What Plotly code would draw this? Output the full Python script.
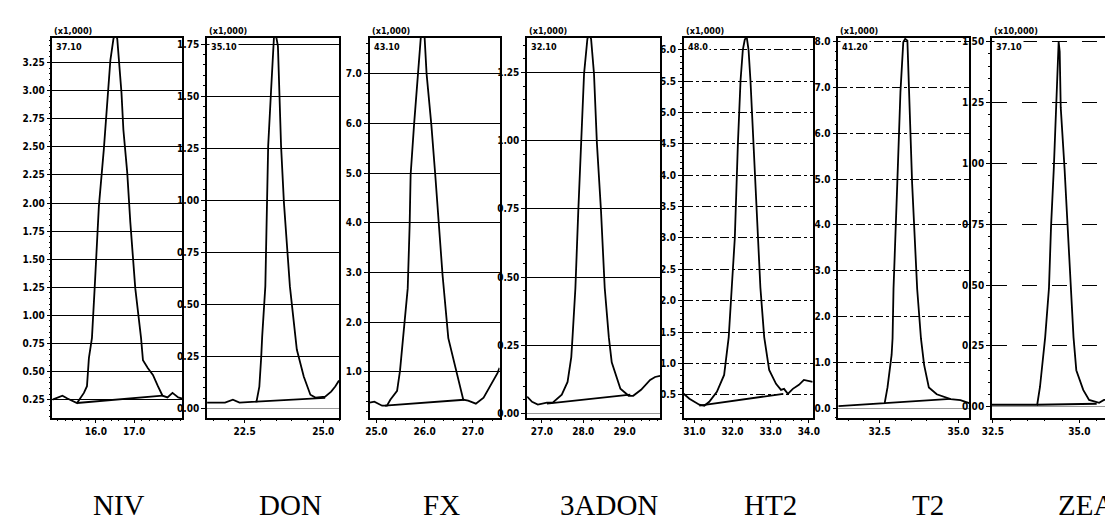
import plotly.graph_objects as go

# ---------------- data (retention time in min, signal) ----------------
names = ["NIV", "DON", "FX", "3ADON", "HT2", "T2", "ZEA"]
top_labels = ["(x1,000)", "(x1,000)", "(x1,000)", "(x1,000)", "(x1,000)", "(x1,000)", "(x10,000)"]
inner_labels = ["37.10", "35.10", "43.10", "32.10", "48.0", "41.20", "37.10"]

niv_t = [14.87, 15.13, 15.26, 15.51, 15.69, 15.77, 15.82, 15.90, 15.97, 16.08, 16.21, 16.26, 16.38, 16.46,
         16.51, 16.56, 16.67, 16.72, 16.82, 16.90, 16.97, 17.03, 17.18, 17.23, 17.36, 17.49, 17.62, 17.74,
         17.87, 18.00, 18.15, 18.26]
niv_v = [0.25, 0.285, 0.26, 0.22, 0.31, 0.37, 0.62, 0.80, 1.24, 1.97, 2.48, 2.74, 3.27, 3.46,
         3.52, 3.46, 2.98, 2.65, 2.27, 1.83, 1.48, 1.24, 0.80, 0.60, 0.53, 0.47, 0.37, 0.285,
         0.27, 0.31, 0.27, 0.26]
niv_base_t = [15.51, 17.74]
niv_base_v = [0.22, 0.285]

don_t = [21.31, 21.88, 22.13, 22.34, 22.88, 22.97, 23.03, 23.06, 23.16, 23.25, 23.34, 23.41, 23.44, 23.50,
         23.56, 23.66, 23.75, 23.94, 24.13, 24.16, 24.38, 24.59, 24.75, 25.06, 25.25, 25.38, 25.50]
don_v = [0.029, 0.029, 0.043, 0.029, 0.034, 0.106, 0.25, 0.346, 0.587, 1.26, 1.52, 1.76, 1.80, 1.79,
         1.74, 1.26, 0.99, 0.587, 0.346, 0.284, 0.154, 0.067, 0.053, 0.058, 0.082, 0.106, 0.135]
don_base_t = [22.88, 25.06]
don_base_v = [0.034, 0.052]

fx_t = [24.86, 24.96, 25.12, 25.22, 25.29, 25.43, 25.49, 25.55, 25.65, 25.69, 25.71, 25.78, 25.86, 25.92,
        25.96, 26.00, 26.04, 26.14, 26.22, 26.29, 26.37, 26.49, 26.65, 26.80, 26.90, 27.06, 27.22, 27.51, 27.55]
fx_v = [0.38, 0.40, 0.32, 0.32, 0.44, 0.62, 1.02, 1.68, 2.68, 3.96, 4.96, 5.96, 7.00, 7.72,
        7.84, 7.72, 7.00, 5.96, 4.96, 3.96, 2.96, 1.68, 1.02, 0.44, 0.42, 0.36, 0.48, 0.98, 1.08]
fx_base_t = [25.18, 26.82]
fx_base_v = [0.32, 0.44]

adon_t = [26.64, 26.76, 26.90, 27.12, 27.26, 27.48, 27.62, 27.71, 27.74, 27.81, 27.88, 27.95, 28.02, 28.10,
          28.14, 28.19, 28.26, 28.33, 28.43, 28.52, 28.62, 28.69, 28.90, 29.10, 29.21, 29.40, 29.62, 29.74, 29.86]
adon_v = [0.062, 0.043, 0.033, 0.040, 0.040, 0.069, 0.116, 0.207, 0.279, 0.46, 0.743, 0.993, 1.246, 1.373,
          1.39, 1.373, 1.246, 0.993, 0.743, 0.46, 0.279, 0.188, 0.091, 0.065, 0.065, 0.087, 0.123, 0.134, 0.138]
adon_base_t = [27.12, 29.14]
adon_base_v = [0.036, 0.069]

ht2_t = [30.72, 30.87, 31.13, 31.26, 31.39, 31.59, 31.78, 31.85, 31.90, 31.98, 32.06, 32.14, 32.21, 32.27,
         32.32, 32.37, 32.42, 32.47, 32.55, 32.65, 32.73, 32.83, 32.96, 33.14, 33.27, 33.35, 33.45, 33.58,
         33.74, 33.87, 34.05, 34.10]
ht2_v = [0.516, 0.437, 0.342, 0.326, 0.389, 0.547, 0.816, 1.21, 1.42, 2.21, 3.00, 4.49, 5.51, 6.00,
         6.16, 6.21, 6.00, 5.51, 4.49, 3.00, 2.21, 1.42, 0.896, 0.674, 0.579, 0.595, 0.516, 0.595,
         0.658, 0.737, 0.706, 0.706]
ht2_base_t = [31.13, 33.33]
ht2_base_v = [0.326, 0.516]

t2_t = [31.19, 31.72, 32.34, 32.66, 32.75, 32.88, 32.91, 32.94, 33.06, 33.16, 33.25, 33.31, 33.38, 33.44,
        33.53, 33.69, 33.81, 33.91, 34.06, 34.31, 34.75, 35.06, 35.34]
t2_v = [0.043, 0.064, 0.086, 0.107, 0.45, 1.16, 1.52, 2.60, 4.91, 6.91, 8.00, 8.07, 8.03, 6.91,
        4.91, 2.60, 1.52, 0.944, 0.45, 0.30, 0.193, 0.172, 0.107]
t2_base_t = [32.66, 34.75]
t2_base_v = [0.107, 0.20]

zea_t = [32.47, 33.07, 33.78, 33.86, 33.95, 34.01, 34.12, 34.18, 34.26, 34.32, 34.37, 34.40, 34.43, 34.46,
         34.57, 34.66, 34.74, 34.83, 34.91, 35.11, 35.28, 35.57, 35.71, 35.99]
zea_v = [0.008, 0.008, 0.008, 0.081, 0.203, 0.285, 0.488, 0.74, 0.98, 1.23, 1.46, 1.50, 1.46, 1.23,
         0.98, 0.74, 0.488, 0.285, 0.150, 0.069, 0.028, 0.016, 0.028, 0.028]
zea_base_t = [33.78, 35.50]
zea_base_v = [0.008, 0.012]

traces_t = [niv_t, don_t, fx_t, adon_t, ht2_t, t2_t, zea_t]
traces_v = [niv_v, don_v, fx_v, adon_v, ht2_v, t2_v, zea_v]
bases_t = [niv_base_t, don_base_t, fx_base_t, adon_base_t, ht2_base_t, t2_base_t, zea_base_t]
bases_v = [niv_base_v, don_base_v, fx_base_v, adon_base_v, ht2_base_v, t2_base_v, zea_base_v]

x_ranges = [[14.87, 18.26], [21.31, 25.5], [24.86, 27.55], [26.64, 29.86], [30.72, 34.10], [31.19, 35.34], [32.47, 36.0]]
y_ranges = [[0.09, 3.47], [-0.043, 1.78], [0.08, 7.72], [-0.015, 1.377], [0.136, 6.19], [-0.21, 8.09], [-0.045, 1.516]]

x_tickvals = [[16.0, 17.0], [22.5, 25.0], [25.0, 26.0, 27.0], [27.0, 28.0, 29.0], [31.0, 32.0, 33.0, 34.0], [32.5, 35.0], [32.5, 35.0]]
x_ticktext = [["16.0", "17.0"], ["22.5", "25.0"], ["25.0", "26.0", "27.0"], ["27.0", "28.0", "29.0"],
              ["31.0", "32.0", "33.0", "34.0"], ["32.5", "35.0"], ["32.5", "35.0"]]
y_tickvals = [
    [0.25, 0.50, 0.75, 1.00, 1.25, 1.50, 1.75, 2.00, 2.25, 2.50, 2.75, 3.00, 3.25],
    [0.00, 0.25, 0.50, 0.75, 1.00, 1.25, 1.50, 1.75],
    [1.0, 2.0, 3.0, 4.0, 5.0, 6.0, 7.0],
    [0.00, 0.25, 0.50, 0.75, 1.00, 1.25],
    [0.5, 1.0, 1.5, 2.0, 2.5, 3.0, 3.5, 4.0, 4.5, 5.0, 5.5, 6.0],
    [0.0, 1.0, 2.0, 3.0, 4.0, 5.0, 6.0, 7.0, 8.0],
    [0.00, 0.25, 0.50, 0.75, 1.00, 1.25, 1.50],
]
y_ticktext = [
    ["0.25", "0.50", "0.75", "1.00", "1.25", "1.50", "1.75", "2.00", "2.25", "2.50", "2.75", "3.00", "3.25"],
    ["0.00", "0.25", "0.50", "0.75", "1.00", "1.25", "1.50", "1.75"],
    ["1.0", "2.0", "3.0", "4.0", "5.0", "6.0", "7.0"],
    ["0.00", "0.25", "0.50", "0.75", "1.00", "1.25"],
    ["0.5", "1.0", "1.5", "2.0", "2.5", "3.0", "3.5", "4.0", "4.5", "5.0", "5.5", "6.0"],
    ["0.0", "1.0", "2.0", "3.0", "4.0", "5.0", "6.0", "7.0", "8.0"],
    ["0.00", "0.25", "0.50", "0.75", "1.00", "1.25", "1.50"],
]

# ---------------- layout / style ----------------
W, H = 1113, 519
panel_px = [(35, 167), (192, 326), (357, 489), (517, 652), (676, 807), (833, 966), (989, 1113)]
top_px, bottom_px = 28, 410
x_minor = [0.2, 0.5, 0.2, 0.2, 0.2, 0.5, 0.5]
y_minor = [0.05, 0.05, 0.2, 0.05, 0.1, 0.2, 0.05]
grid_dash = ["solid", "solid", "solid", "solid", "dashdot", "dashdot", "longdash"]
name_cx = [103, 277, 430, 600, 764, 924, 1085]

narrow = "Liberation Sans Narrow, DejaVu Sans Condensed, Arial Narrow, sans-serif"
tick_font = dict(family=narrow, size=10, color="black", weight="bold")
small_font = dict(family=narrow, size=9, color="black", weight="bold")

fig = go.Figure()
layout = dict(width=W, height=H, margin=dict(l=0, r=0, t=0, b=0),
              paper_bgcolor="white", plot_bgcolor="white", showlegend=False)
annotations = []

for i in range(7):
    n = "" if i == 0 else str(i + 1)
    xa, ya = "x" + n, "y" + n
    fig.add_trace(go.Scatter(x=traces_t[i], y=traces_v[i], mode="lines", xaxis=xa, yaxis=ya,
                             line=dict(color="black", width=1.8), hoverinfo="skip"))
    fig.add_trace(go.Scatter(x=bases_t[i], y=bases_v[i], mode="lines", xaxis=xa, yaxis=ya,
                             line=dict(color="black", width=1.8), hoverinfo="skip"))
    l, r = panel_px[i]
    xdom = [l / W, min(r / W, 1.0)]
    ydom = [1 - bottom_px / H, 1 - top_px / H]
    layout["xaxis" + n] = dict(
        domain=xdom, anchor=ya, range=x_ranges[i], tickmode="array",
        tickvals=x_tickvals[i], ticktext=x_ticktext[i], ticks="outside", ticklen=4,
        tickcolor="black", tickwidth=1, tickfont=tick_font, showgrid=False, zeroline=False,
        showline=True, linecolor="black", linewidth=1.5, mirror=True,
        minor=dict(dtick=x_minor[i], ticks="outside", ticklen=2, tickcolor="black", showgrid=False),
        fixedrange=True)
    layout["yaxis" + n] = dict(
        domain=ydom, anchor=xa, range=y_ranges[i], tickmode="array",
        tickvals=y_tickvals[i], ticktext=y_ticktext[i], ticks="outside", ticklen=4,
        tickcolor="black", tickwidth=1, tickfont=tick_font, showgrid=True, gridcolor="black",
        gridwidth=1, griddash=grid_dash[i], zeroline=True, zerolinecolor="#9a9a9a", zerolinewidth=1,
        showline=True, linecolor="black", linewidth=1.5, mirror=(i < 6),
        minor=dict(dtick=y_minor[i], ticks="outside", ticklen=2, tickcolor="black", showgrid=False),
        fixedrange=True)
    annotations.append(dict(x=l / W, y=1 - 21 / H, xref="paper", yref="paper", text=top_labels[i],
                            showarrow=False, xanchor="left", yanchor="middle", font=small_font))
    annotations.append(dict(x=(l + 2) / W, y=1 - 37 / H, xref="paper", yref="paper", text=inner_labels[i],
                            showarrow=False, xanchor="left", yanchor="middle", font=small_font,
                            bgcolor="white"))
    annotations.append(dict(x=name_cx[i] / W, y=1 - 498 / H, xref="paper", yref="paper", text=names[i],
                            showarrow=False, xanchor="center", yanchor="middle",
                            font=dict(family="Liberation Serif, Times New Roman, serif", size=29,
                                      color="black")))

layout["annotations"] = annotations
fig.update_layout(**layout)
fig.write_html("out.html")
